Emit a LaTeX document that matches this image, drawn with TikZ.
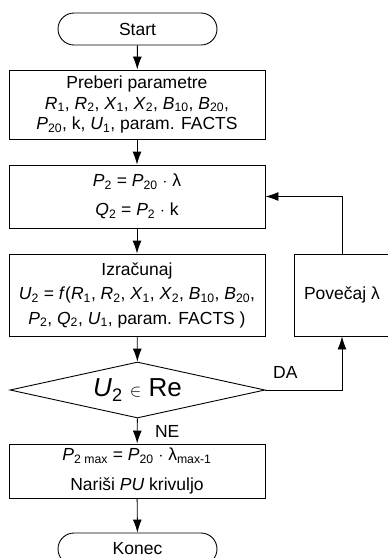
\documentclass[tikz,border=0pt]{standalone}
\usepackage{fontspec}
\setmainfont{Liberation Sans}
\usepackage{tikz}
\usetikzlibrary{shapes.geometric, arrows.meta, positioning}

% italic variable with subscript
\newcommand{\vr}[2]{\textit{#1}\textsubscript{#2}}

\begin{document}
\begin{tikzpicture}[>={Latex[length=13pt,width=9pt]}, x=1pt, y=-1pt, line width=0.9pt,
    txt/.style={font=\fontsize{17.5}{20.5}\selectfont},
    box/.style={txt, draw, rectangle, minimum width=256pt, align=center, inner sep=0pt},
    term/.style={txt, draw, rectangle, rounded corners=16pt, minimum width=159pt, minimum height=32pt, inner sep=0pt},
    odl/.style={draw, diamond, shape aspect=4.5, minimum width=255pt, minimum height=56pt, inner sep=0pt,
        font=\fontsize{26}{30}\selectfont}]
    \clip (0,0) rectangle (388,558);

    % Bloki
    \node[term] (start) at (137.5,29) {Start};
    \node[box, minimum height=69pt] (beri) at (137,104.5)
        {Preberi parametre\\
         \vr{R}{1}, \vr{R}{2}, \vr{X}{1}, \vr{X}{2}, \vr{B}{10}, \vr{B}{20},\\
         \vr{P}{20}, k, \vr{U}{1}, param. FACTS};
    \node[box, minimum height=63pt] (moc) at (137,196.5)
        {\vr{P}{2} = \vr{P}{20} $\cdot$ λ\\[9pt]
         \vr{Q}{2} = \vr{P}{2} $\cdot$ k};
    \node[box, minimum height=82pt] (izr) at (137,295)
        {Izračunaj\\[4pt]
         \vr{U}{2} = \textit{f}(\vr{R}{1}, \vr{R}{2}, \vr{X}{1}, \vr{X}{2}, \vr{B}{10}, \vr{B}{20},\\[4pt]
         \vr{P}{2}, \vr{Q}{2}, \vr{U}{1}, param. FACTS )};
    \node[txt, draw, rectangle, minimum width=96pt, minimum height=82pt, inner sep=0pt] (pov) at (342,295) {Povečaj λ};
    \node[odl] (pogoj) at (137.5,390) {\vr{U}{2} {\fontsize{17}{20}\selectfont$\in$} Re};
    \node[box, minimum height=54pt] (kon) at (137,471)
        {\vr{P}{2 max} = \vr{P}{20} $\cdot$ λ\textsubscript{max-1}\\[9pt]
         Nariši \textit{PU} krivuljo};
    \node[term] (konec) at (137.5,549) {Konec};

    % Povezave
    \draw[->] (start) -- (beri);
    \draw[->] (beri) -- (moc);
    \draw[->] (moc) -- (izr);
    \draw[->] (izr) -- (pogoj);
    \draw[->] (pogoj) -- (kon) node[txt, midway, right=14pt] (ne) {NE};
    \draw[->] (kon) -- (konec);
    \draw[->] (pogoj.east) -| (pov.south) node[txt, pos=0.13, above=8pt] (da) {DA};
    \draw[->] (pov.north) |- (moc.east);
\end{tikzpicture}
\end{document}
